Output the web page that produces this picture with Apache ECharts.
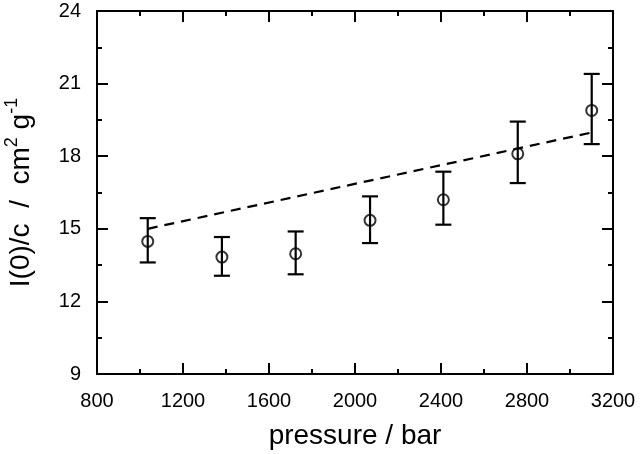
<!DOCTYPE html>
<html>
<head>
<meta charset="utf-8">
<script src="https://cdn.jsdelivr.net/npm/echarts@6/dist/echarts.min.js"></script>
<style>html,body{margin:0;padding:0;background:#fff}#c{width:640px;height:454px}</style>
</head>
<body>
<div id="c"></div>
<script>
var pressure = [1036, 1381, 1724, 2070, 2411, 2757, 3101];
var intensity = [14.48, 13.83, 13.97, 15.35, 16.2, 18.1, 19.89];
var errLow = [13.61, 13.06, 13.12, 14.41, 15.17, 16.89, 18.5];
var errHigh = [15.44, 14.66, 14.89, 16.34, 17.36, 19.43, 21.4];
var fitX = [1036, 3101];
var fitY = [15.0, 18.98];

var chart = echarts.init(document.getElementById('c'));
var font = '"Liberation Sans", Arial, sans-serif';
var pts = pressure.map(function(p, i){ return [p, intensity[i]]; });
var errs = pressure.map(function(p, i){ return [p, errLow[i], errHigh[i]]; });
var fit = fitX.map(function(x, i){ return [x, fitY[i]]; });

function axisCommon() {
  return {
    axisLine: {show: true, lineStyle: {color: '#000', width: 2}},
    axisTick: {show: true, inside: true, length: 11, lineStyle: {color: '#000', width: 2}},
    minorTick: {show: true, splitNumber: 2, length: 5, lineStyle: {color: '#000', width: 2}},
    splitLine: {show: false}
  };
}
function lbl(margin, show) {
  return {axisLabel: {show: show, color: '#000', fontSize: 20, fontFamily: font, margin: margin,
    hideOverlap: false,
    formatter: function(v){ return String(v); }}};
}

var option = {
  animation: false,
  backgroundColor: '#fff',
  grid: {left: 97, right: 27, top: 11, bottom: 80, containLabel: false, outerBoundsMode: 'none'},
  xAxis: [
    Object.assign({type: 'value', min: 800, max: 3200, interval: 400, position: 'bottom',
      name: 'pressure / bar', nameLocation: 'middle', nameGap: 48,
      nameTextStyle: {color: '#000', fontSize: 28, fontFamily: font}}, axisCommon(), lbl(17, true)),
    Object.assign({type: 'value', min: 800, max: 3200, interval: 400, position: 'top'}, axisCommon(), lbl(8, false))
  ],
  yAxis: [
    Object.assign({type: 'value', min: 9, max: 24, interval: 3, position: 'left',
      name: '{m|I(0)/c  /  cm}{s|2}{m| g}{s|-1}', nameLocation: 'middle', nameGap: 62, nameRotate: 90,
      nameTextStyle: {color: '#000', fontFamily: font,
        rich: {m: {fontSize: 28, fontFamily: font, color: '#000', lineHeight: 32, verticalAlign: 'bottom'},
               s: {fontSize: 18, fontFamily: font, color: '#000', lineHeight: 32, verticalAlign: 'top'}}}},
      axisCommon(), lbl(16, true)),
    Object.assign({type: 'value', min: 9, max: 24, interval: 3, position: 'right'}, axisCommon(), lbl(8, false))
  ],
  series: [
    {
      type: 'line', data: fit, showSymbol: false, symbol: 'none',
      lineStyle: {color: '#000', width: 2.2, type: [10, 7]}, z: 2
    },
    {
      type: 'custom', data: errs, z: 3,
      renderItem: function(params, api) {
        var x = api.value(0);
        var lo = api.coord([x, api.value(1)]);
        var hi = api.coord([x, api.value(2)]);
        var w = 8;
        var st = {stroke: '#000', lineWidth: 2.2};
        return {type: 'group', children: [
          {type: 'line', shape: {x1: lo[0], y1: lo[1], x2: hi[0], y2: hi[1]}, style: st},
          {type: 'line', shape: {x1: lo[0]-w, y1: lo[1], x2: lo[0]+w, y2: lo[1]}, style: st},
          {type: 'line', shape: {x1: hi[0]-w, y1: hi[1], x2: hi[0]+w, y2: hi[1]}, style: st}
        ]};
      }
    },
    {
      type: 'scatter', data: pts, symbol: 'circle', symbolSize: 11, z: 4,
      itemStyle: {color: 'rgba(0,0,0,0)', borderColor: '#000', borderWidth: 2}
    }
  ]
};
chart.setOption(option);
</script>
</body>
</html>
